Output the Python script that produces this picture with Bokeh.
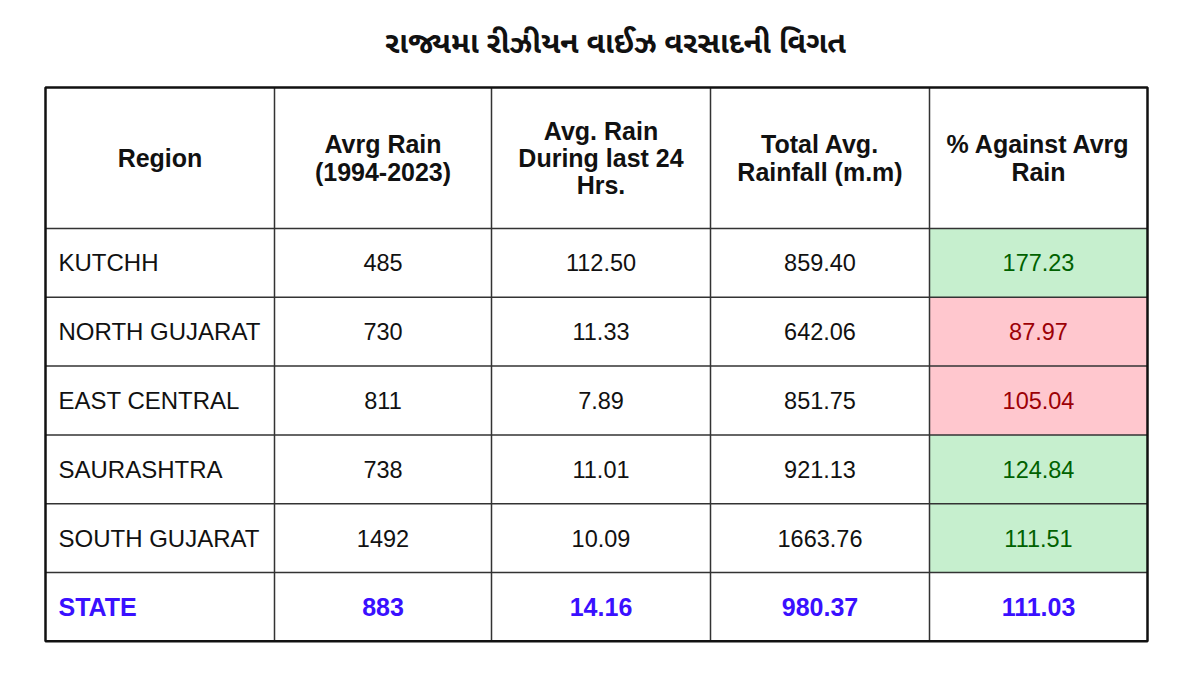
from bokeh.plotting import figure
from bokeh.models import Range1d
from bokeh.core.properties import value
from bokeh.embed import file_html
from bokeh.resources import INLINE

title = "રાજ્યમા રીઝીયન વાઈઝ વરસાદની વિગત"
headers = ["Region", "Avrg Rain\n(1994-2023)", "Avg. Rain\nDuring last 24\nHrs.",
           "Total Avg.\nRainfall (m.m)", "% Against Avrg\nRain"]
regions = ["KUTCHH", "NORTH GUJARAT", "EAST CENTRAL", "SAURASHTRA", "SOUTH GUJARAT"]
avg_rain = ["485", "730", "811", "738", "1492"]
last_24 = ["112.50", "11.33", "7.89", "11.01", "10.09"]
total_avg = ["859.40", "642.06", "851.75", "921.13", "1663.76"]
pct_against = ["177.23", "87.97", "105.04", "124.84", "111.51"]
state_row = ["STATE", "883", "14.16", "980.37", "111.03"]

# layout
col_edges = [45, 274, 491, 710, 929, 1147]
header_top, header_bottom = 87, 228
row_h = 68.8
n_rows = len(regions) + 1

p = figure(width=1184, height=659, output_backend="svg", toolbar_location=None,
           x_range=Range1d(0, 1184), y_range=Range1d(659, 0), min_border=0)
p.axis.visible = False
p.grid.visible = False
p.outline_line_color = None
p.background_fill_color = "white"
p.border_fill_color = "white"

FONT = "Liberation Sans"

# title
p.text(x=[615], y=[45], text=[title], text_font=value("Noto Sans Gujarati"),
       text_font_size="30px", text_font_style="bold", text_align="center",
       text_baseline="middle", text_color="#111111")

row_tops = [header_bottom + i * row_h for i in range(n_rows)]

# percentage cell fills
fill_l, fill_r, fill_t, fill_b, fill_c, txt_c = [], [], [], [], [], []
for i, v in enumerate(pct_against):
    good = float(v) >= 110
    fill_l.append(col_edges[4]); fill_r.append(col_edges[5])
    fill_t.append(row_tops[i]); fill_b.append(row_tops[i] + row_h)
    fill_c.append("#c6efce" if good else "#ffc7ce")
    txt_c.append("#006100" if good else "#9c0006")
p.quad(left=fill_l, right=fill_r, top=fill_t, bottom=fill_b, fill_color=fill_c, line_color=None)

# header text
cx = [(col_edges[i] + col_edges[i + 1]) / 2 for i in range(5)]
hy = (header_top + header_bottom) / 2
p.text(x=cx, y=[hy] * 5, text=headers, text_font=value(FONT), text_font_size="25px",
       text_font_style="bold", text_align="center", text_baseline="middle",
       text_line_height=0.98, text_color="#111111")

# body
cols = [avg_rain, last_24, total_avg]
xs, ys, ts = [], [], []
for i in range(len(regions)):
    yc = row_tops[i] + row_h / 2
    for j, c in enumerate(cols):
        xs.append(cx[j + 1]); ys.append(yc); ts.append(c[i])
p.text(x=[58] * len(regions), y=[row_tops[i] + row_h / 2 for i in range(len(regions))],
       text=regions, text_font=value(FONT), text_font_size="24px", text_align="left",
       text_baseline="middle", text_color="#111111")
p.text(x=xs, y=ys, text=ts, text_font=value(FONT), text_font_size="23.5px",
       text_align="center", text_baseline="middle", text_color="#111111")
p.text(x=[cx[4]] * len(regions), y=[row_tops[i] + row_h / 2 for i in range(len(regions))],
       text=pct_against, text_font=value(FONT), text_font_size="23.5px",
       text_align="center", text_baseline="middle", text_color=txt_c)

# state row
sy = row_tops[-1] + row_h / 2
p.text(x=[58], y=[sy], text=[state_row[0]], text_font=value(FONT), text_font_size="25px",
       text_font_style="bold", text_align="left", text_baseline="middle", text_color="#3a10ff")
p.text(x=cx[1:], y=[sy] * 4, text=state_row[1:], text_font=value(FONT), text_font_size="25px",
       text_font_style="bold", text_align="center", text_baseline="middle", text_color="#3a10ff")

# grid lines
table_bottom = row_tops[-1] + row_h
hx0, hx1, hy0, hy1 = [], [], [], []
for y in [header_bottom] + row_tops[1:]:
    hx0.append(col_edges[0]); hx1.append(col_edges[-1]); hy0.append(y); hy1.append(y)
p.segment(x0=hx0, x1=hx1, y0=hy0, y1=hy1, line_color="#333333", line_width=1.5)
vx = col_edges[1:-1]
p.segment(x0=vx, x1=vx, y0=[header_top] * len(vx), y1=[table_bottom] * len(vx),
          line_color="#333333", line_width=1.5)
p.quad(left=[col_edges[0]], right=[col_edges[-1]], top=[header_top], bottom=[table_bottom],
       fill_color=None, line_color="#111111", line_width=2.5)

open("out.html", "w").write(file_html(p, INLINE))
